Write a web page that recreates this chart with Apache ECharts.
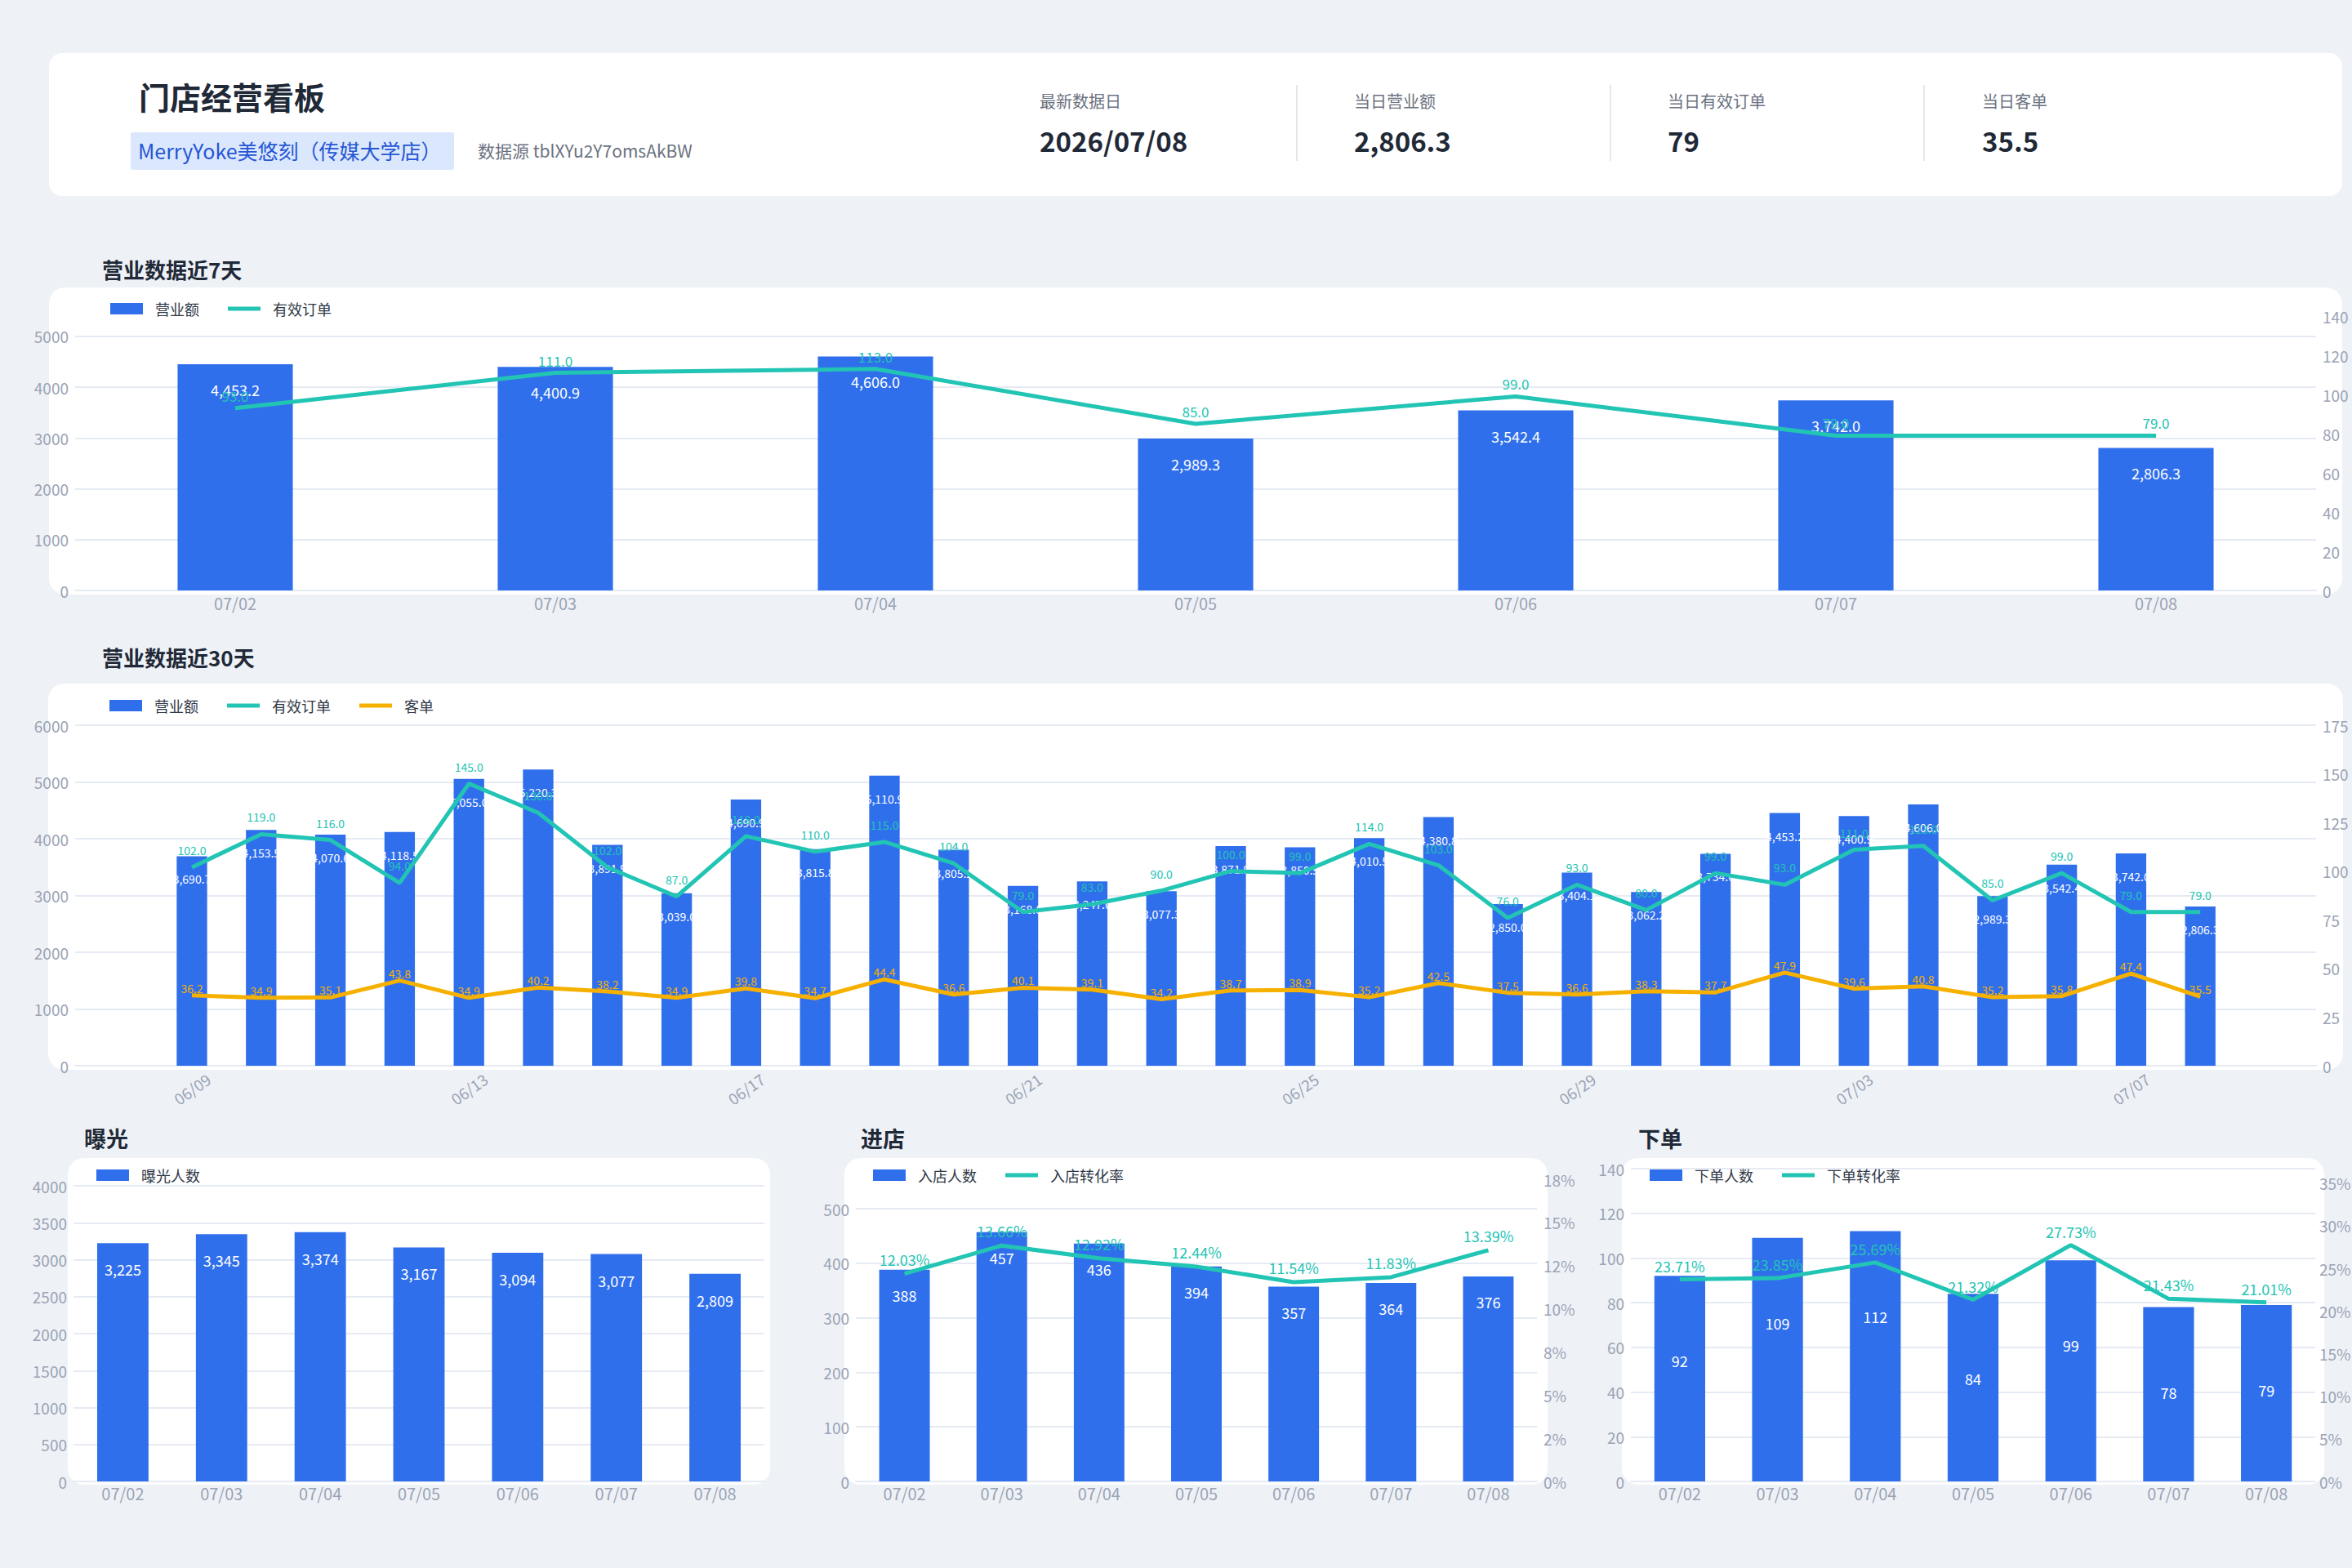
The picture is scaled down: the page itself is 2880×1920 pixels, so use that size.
<!DOCTYPE html>
<html><head><meta charset="utf-8">
<script src="https://cdn.jsdelivr.net/npm/echarts@6/dist/echarts.min.js"></script>
<style>html,body{margin:0;padding:0;background:#eef2f7;}#c{width:2880px;height:1920px;}</style>
</head><body><div id="c"></div>
<script>
// ---------- data ----------
const dates30 = ['06/09','06/10','06/11','06/12','06/13','06/14','06/15','06/16','06/17','06/18','06/19','06/20','06/21','06/22','06/23','06/24','06/25','06/26','06/27','06/28','06/29','06/30','07/01','07/02','07/03','07/04','07/05','07/06','07/07','07/08'];
const revenue30 = [3690.7,4153.5,4070.6,4118.5,5055.0,5220.3,3891.9,3039.0,4690.9,3815.8,5110.9,3805.2,3168.8,3247.0,3077.3,3871.9,3850.5,4010.5,4380.8,2850.0,3404.1,3062.2,3734.6,4453.2,4400.9,4606.0,2989.3,3542.4,3742.0,2806.3];
const orders30 = [102,119,116,94,145,130,102,87,118,110,115,104,79,83,90,100,99,114,103,76,93,80,99,93,111,113,85,99,79,79];
const avgTicket30 = [36.2,34.9,35.1,43.8,34.9,40.2,38.2,34.9,39.8,34.7,44.4,36.6,40.1,39.1,34.2,38.7,38.9,35.2,42.5,37.5,36.6,38.3,37.7,47.9,39.6,40.8,35.2,35.8,47.4,35.5];

const dates7 = ['07/02','07/03','07/04','07/05','07/06','07/07','07/08'];
const revenue7 = [4453.2,4400.9,4606.0,2989.3,3542.4,3742.0,2806.3];
const orders7 = [93,111,113,85,99,79,79];
const exposure7 = [3225,3345,3374,3167,3094,3077,2809];
const visitors7 = [388,457,436,394,357,364,376];
const visitRate7 = [12.03,13.66,12.92,12.44,11.54,11.83,13.39];
const buyers7 = [92,109,112,84,99,78,79];
const buyRate7 = [23.71,23.85,25.69,21.32,27.73,21.43,21.01];
const visitRateTicks = ['0%','2%','5%','8%','10%','12%','15%','18%'];

const kpiLabels = ['最新数据日','当日营业额','当日有效订单','当日客单'];
const kpiValues = ['2026/07/08','2,806.3','79','35.5'];

// ---------- style ----------
const FONT = '"Noto Sans CJK SC","Noto Sans",sans-serif';
const BLUE = '#306fec', TEAL = '#22c4b4', ORANGE = '#f6b100';
const AXC = '#9ba3b4', GRIDC = '#e6ebf3', DARK = '#1f2937';
const LINE_ICON = 'path://M0,0H40V5H0Z';
const fmt1 = v => Number(v).toLocaleString('en-US',{minimumFractionDigits:1,maximumFractionDigits:1});
const fmt0 = v => Number(v).toLocaleString('en-US');

function yAxis(gi, pos, min, max, interval, extra) {
  const o = {
    type:'value', gridIndex:gi, position:pos, min:min, max:max, interval:interval,
    axisLine:{show:false}, axisTick:{show:false},
    axisLabel:{color:AXC, fontSize:19, fontFamily:FONT, margin:8, showMaxLabel:true, formatter:v => String(v)},
    splitLine:{show: pos==='left', lineStyle:{color:GRIDC, width:2}}
  };
  if (extra) {
    if (extra.hideMax) { o.axisLabel.showMaxLabel = false; o.splitLine.showMaxLine = false; }
    if (extra.formatter) o.axisLabel.formatter = extra.formatter;
    if (extra.fontSize) o.axisLabel.fontSize = extra.fontSize;
    if (extra.margin !== undefined) o.axisLabel.margin = extra.margin;
    if (extra.hidden) { o.show = false; o.splitLine.show = false; }
  }
  return o;
}
function xAxis(gi, data, extra) {
  const o = {
    type:'category', gridIndex:gi, data:data,
    axisLine:{show:true, lineStyle:{color:GRIDC, width:2}}, axisTick:{show:false},
    axisLabel:{color:AXC, fontSize:20, fontFamily:FONT, margin:5}
  };
  return Object.assign(o, extra || {});
}
function legend(left, top, items) {
  return {left:left, top:top, padding:0, itemWidth:40, itemHeight:14, itemGap:35, selectedMode:false,
    textStyle:{fontSize:18, color:'#2f3847', fontFamily:FONT, padding:[0,0,0,10]}, data:items};
}
function barLabel(size, dist, f) {
  return {show:true, position:'insideTop', distance:dist, color:'#fff', fontSize:size, fontFamily:FONT,
    textBorderWidth:0, formatter:p => f(p.value)};
}
function lineLabel(color, size, dist, f) {
  return {show:true, position:'top', distance:dist, color:color, fontSize:size, fontFamily:FONT,
    textBorderWidth:0, formatter:p => f(p.value)};
}
function lineSeries(name, xi, yi, data, color, lbl) {
  return {type:'line', name:name, xAxisIndex:xi, yAxisIndex:yi, data:data, symbol:'circle', symbolSize:0,
    showSymbol:true, lineStyle:{width:5, color:color}, itemStyle:{color:color}, label:lbl, z:4};
}
function barSeries(name, xi, yi, data, width, lbl) {
  return {type:'bar', name:name, xAxisIndex:xi, yAxisIndex:yi, data:data, barWidth:width,
    itemStyle:{color:BLUE}, label:lbl, z:2};
}

// ---------- graphics (cards + header) ----------
const card = (x,y,w,h,r) => ({type:'rect', shape:{x:x,y:y,width:w,height:h,r:r}, style:{fill:'#fff'}, z:-20, silent:true});
const txt = (x,y,t,font,fill) => ({type:'text', x:x, y:y, style:{text:t, font:font, fill:fill, verticalAlign:'middle'}, z:-5, silent:true});
const graphics = [
  card(60,65,2808,175,16),
  card(60,352,2808,376,20),
  card(59,837,2810,473,20),
  card(83,1418,860,400,20),
  card(1034,1418,861,400,20),
  card(1986,1418,860,400,20),
  txt(170,117,'门店经营看板','bold 38px '+FONT,DARK),
  {type:'rect', shape:{x:160,y:162,width:396,height:46,r:3}, style:{fill:'#dbe7fd'}, z:-10, silent:true},
  txt(169,184,'MerryYoke美悠刻（传媒大学店）','25px '+FONT,'#2556d4'),
  txt(585,184,'数据源 tblXYu2Y7omsAkBW','21px '+FONT,'#6b7280'),
  txt(125,329,'营业数据近7天','bold 26px '+FONT,DARK),
  txt(125,804,'营业数据近30天','bold 26px '+FONT,DARK),
  txt(103,1393,'曝光','bold 27px '+FONT,DARK),
  txt(1054,1393,'进店','bold 27px '+FONT,DARK),
  txt(2006,1393,'下单','bold 27px '+FONT,DARK)
];
const kpiX = [1273,1658,2042,2427];
kpiX.forEach((x,i) => {
  graphics.push(txt(x,123,kpiLabels[i],'20px '+FONT,'#6b7280'));
  graphics.push(txt(x,172,kpiValues[i],'bold 33px '+FONT,DARK));
});
[1588,1972,2356].forEach(x => graphics.push({type:'line', shape:{x1:x,y1:104,x2:x,y2:197}, style:{stroke:'#e3e8ef', lineWidth:2}, z:-5, silent:true}));

const option = {
  animation:false,
  backgroundColor:'#eef2f7',
  textStyle:{fontFamily:FONT},
  graphic:graphics,
  legend:[
    legend(135,369,[{name:'营业额',icon:'rect'},{name:'有效订单',icon:LINE_ICON}]),
    legend(134,855,[{name:'营业额',icon:'rect'},{name:'有效订单',icon:LINE_ICON},{name:'客单',icon:LINE_ICON}]),
    legend(118,1430,[{name:'曝光人数',icon:'rect'}]),
    legend(1069,1430,[{name:'入店人数',icon:'rect'},{name:'入店转化率',icon:LINE_ICON}]),
    legend(2020,1430,[{name:'下单人数',icon:'rect'},{name:'下单转化率',icon:LINE_ICON}])
  ],
  grid:[
    {left:92, top:387, width:2744, height:336, outerBoundsMode:'none'},
    {left:92, top:888, width:2744, height:417, outerBoundsMode:'none'},
    {left:192.6, top:888, width:2544, height:417, outerBoundsMode:'none'},
    {left:90, top:1452, width:846, height:362, outerBoundsMode:'none'},
    {left:1048, top:1444, width:834, height:370, outerBoundsMode:'none'},
    {left:1997, top:1431, width:838, height:383, outerBoundsMode:'none'}
  ],
  xAxis:[
    xAxis(0, dates7),
    xAxis(1, dates30, {show:true, axisLabel:{show:false}}),
    xAxis(2, dates30, {axisLine:{show:false}, axisLabel:{color:AXC, fontSize:19, fontFamily:FONT, interval:3, rotate:35, align:'center', verticalAlign:'middle', margin:28}}),
    xAxis(3, dates7, {axisLabel:{color:AXC, fontSize:20, fontFamily:FONT, margin:4}}),
    xAxis(4, dates7, {axisLabel:{color:AXC, fontSize:20, fontFamily:FONT, margin:4}}),
    xAxis(5, dates7, {axisLabel:{color:AXC, fontSize:20, fontFamily:FONT, margin:4}})
  ],
  yAxis:[
    yAxis(0,'left',0,5400,1000,{hideMax:true}),
    yAxis(0,'right',0,140,20),
    yAxis(1,'left',0,6000,1000),
    yAxis(1,'right',0,175,25),
    yAxis(2,'left',0,6000,1000,{hidden:true}),
    yAxis(2,'right',0,175,25,{hidden:true}),
    yAxis(3,'left',0,4000,500),
    yAxis(4,'left',0,554,100,{hideMax:true}),
    yAxis(4,'right',0,17.5,2.5,{formatter:v => visitRateTicks[Math.round(v/2.5)]}),
    yAxis(5,'left',0,140,20),
    yAxis(5,'right',0,36.7,5,{hideMax:true, fontSize:19, margin:5, formatter:v => Math.round(v)+'%'})
  ],
  series:[
    barSeries('营业额',0,0,revenue7,'36%',barLabel(18,22,fmt1)),
    lineSeries('有效订单',0,1,orders7,TEAL,lineLabel(TEAL,17,7,v=>v.toFixed(1))),
    barSeries('营业额',2,4,revenue30,'44%',barLabel(14,21,fmt1)),
    lineSeries('有效订单',2,5,orders30,TEAL,lineLabel(TEAL,14,14,v=>v.toFixed(1))),
    lineSeries('客单',2,5,avgTicket30,ORANGE,lineLabel(ORANGE,14,2,v=>v.toFixed(1))),
    barSeries('曝光人数',3,6,exposure7,'52%',barLabel(18,23,fmt0)),
    barSeries('入店人数',4,7,visitors7,'52%',barLabel(18,22,fmt0)),
    lineSeries('入店转化率',4,8,visitRate7,TEAL,lineLabel(TEAL,18,9,v=>v.toFixed(2)+'%')),
    barSeries('下单人数',5,9,buyers7,'52%',barLabel(18,95,fmt0)),
    lineSeries('下单转化率',5,10,buyRate7,TEAL,lineLabel(TEAL,18,8,v=>v.toFixed(2)+'%'))
  ]
};
const chart = echarts.init(document.getElementById('c'), null, {renderer:'svg', width:2880, height:1920});
chart.setOption(option);
</script>
</body></html>
